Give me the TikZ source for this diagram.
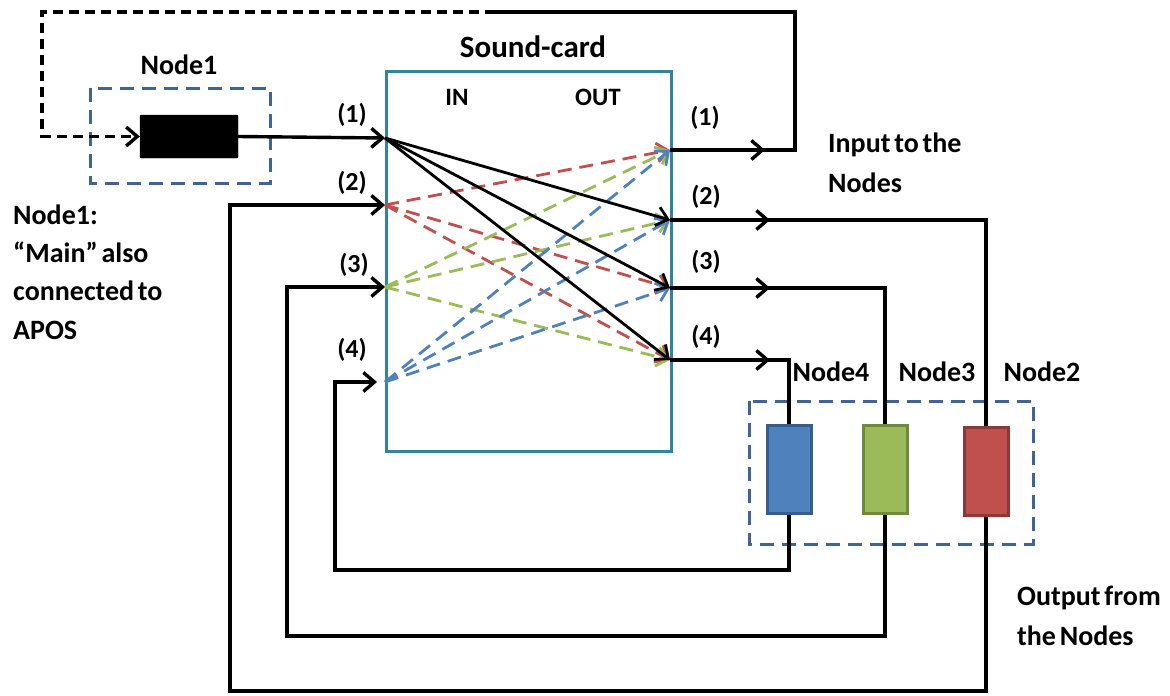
\documentclass[tikz,border=0pt]{standalone}
\usepackage{fontspec}
\setmainfont{Carlito}[WordSpace=0.6]
\usetikzlibrary{arrows.meta}
\definecolor{cardline}{HTML}{31849B}
\definecolor{grpline}{HTML}{3F6497}
\definecolor{nred}{HTML}{C0504D}
\definecolor{nredd}{HTML}{8C3836}
\definecolor{ngreen}{HTML}{9BBB59}
\definecolor{ngreend}{HTML}{71893F}
\definecolor{nblue}{HTML}{4F81BD}
\definecolor{nblued}{HTML}{385D8A}
\begin{document}
\begin{tikzpicture}[x=1pt,y=-1pt,
  lbl/.style={font=\fontsize{28}{40}\selectfont\bfseries, inner sep=0pt},
  num/.style={font=\fontsize{26}{30}\selectfont\bfseries, inner sep=0pt},
  wire/.style={line width=3.4pt, black},
  cross/.style={line width=2.8pt},
  dsh/.style={dash pattern=on 14pt off 8pt},
  tip/.style={-{Straight Barb[length=11pt,width=19pt]}},
  group/.style={draw=grpline, line width=3pt, dash pattern=on 14pt off 8pt},
  unit/.style={draw, line width=3pt, minimum width=44pt, minimum height=88pt, inner sep=0pt}]
\useasboundingbox (0,0) rectangle (1170,696);

% sound card
\node[draw=cardline, line width=3pt, minimum width=285pt, minimum height=380pt,
      anchor=north west, inner sep=0pt] (card) at (385,70) {};
\node[lbl, font=\fontsize{31}{36}\selectfont\bfseries] (title) at (533,47) {Sound-card};
\node[num, font=\fontsize{25}{28}\selectfont\bfseries] (inlbl) at (457,97) {IN};
\node[num, font=\fontsize{25}{28}\selectfont\bfseries] (outlbl) at (598,97) {OUT};

% ports
\coordinate (in1) at (385,138);
\coordinate (in2) at (385,205);
\coordinate (in3) at (385,287);
\coordinate (in4) at (385,382);
\coordinate (out1) at (670,150);
\coordinate (out2) at (670,220);
\coordinate (out3) at (670,288);
\coordinate (out4) at (670,360);

\node[num] (i1) at (352,115) {(1)};
\node[num] (i2) at (352,183) {(2)};
\node[num] (i3) at (354,265) {(3)};
\node[num] (i4) at (352,350) {(4)};
\node[num] (o1) at (705,118) {(1)};
\node[num] (o2) at (706,197) {(2)};
\node[num] (o3) at (706,262) {(3)};
\node[num] (o4) at (706,337) {(4)};

% Node1
\draw[group] (90,88) rectangle (270,183);
\node[fill=black, draw=black, minimum width=98pt, minimum height=43pt, inner sep=0pt,
      rounded corners=1pt] (n1) at (189,136.5) {};
\node[lbl] (n1lbl) at (179,65) {Node1};

% output nodes
\draw[group] (749,401) rectangle (1033,544);
\node[unit, fill=nblue, draw=nblued] (n4) at (789,469) {};
\node[unit, fill=ngreen, draw=ngreend] (n3) at (885,469) {};
\node[unit, fill=nred, draw=nredd] (n2) at (986,471) {};
\node[lbl] (n4lbl) at (831,372) {Node4};
\node[lbl] (n3lbl) at (937,372) {Node3};
\node[lbl] (n2lbl) at (1042,372) {Node2};

% texts
\node[lbl, anchor=west, align=left] (inp) at (828,163) {Input to the\\Nodes};
\node[lbl, anchor=west, align=left] (outp) at (1017,616) {Output from\\the Nodes};
\node[lbl, anchor=west, align=left, font=\fontsize{28}{38.3}\selectfont\bfseries]
  (note) at (13,272) {Node1:\\“Main” also\\connected to\\APOS};

% routing inside the card
\foreach \o in {out1,out3,out4}
  \draw[cross, dsh, nred, tip] (in2) -- (\o);
\foreach \o in {out1,out2,out4}
  \draw[cross, dsh, ngreen, tip] (in3) -- (\o);
\foreach \o in {out1,out2,out3}
  \draw[cross, dsh, nblue, tip] (in4) -- (\o);
\foreach \o in {out2,out3,out4}
  \draw[cross, black, tip] (in1) -- (\o);

% Node1 into the card
\draw[wire, tip] (n1.east) -- (in1);

% output (1) back to Node1
\coordinate (c1) at (795,12);
\coordinate (c2) at (495,12);
\coordinate (c3) at (42,12);
\draw[wire] (out1) -| (c1) -- (c2);
\draw[wire, tip] (out1) -- (765,150);
\draw[wire, dash pattern=on 10pt off 6pt, tip] (c2) -- (c3) |- (n1.west);

% outputs (2)-(4) to the nodes
\draw[wire] (out2) -| (n2.north);
\draw[wire, tip] (out2) -- (770,220);
\draw[wire] (out3) -| (n3.north);
\draw[wire, tip] (out3) -- (770,288);
\draw[wire] (out4) -| (n4.north);
\draw[wire, tip] (out4) -- (770,360);

% node outputs back into the card
\coordinate (r4) at (335,570);
\coordinate (r3) at (287,636);
\coordinate (r2) at (230,691);
\draw[wire, tip] (n4.south) |- (r4) |- ([xshift=-8pt]in4);
\draw[wire, tip] (n3.south) |- (r3) |- (in3);
\draw[wire, tip] (n2.south) |- (r2) |- (in2);
\end{tikzpicture}
\end{document}
